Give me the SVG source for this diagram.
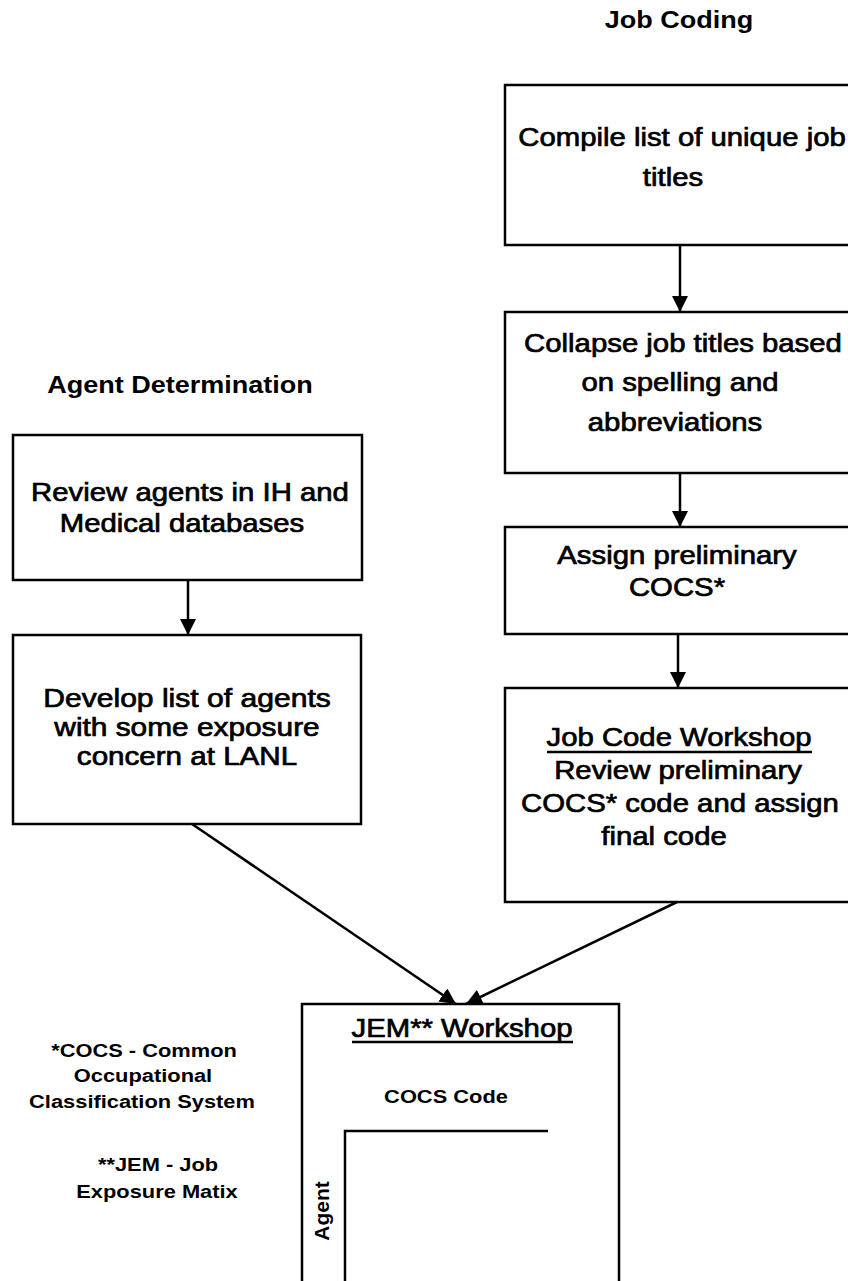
<svg xmlns="http://www.w3.org/2000/svg" width="848" height="1281" viewBox="0 0 848 1281">
<defs>
<style>
.box{fill:#fff;stroke:#000;stroke-width:2.5}
.t{font-family:"Liberation Sans",Arial,sans-serif;font-size:25.5px;fill:#000;stroke:#000;stroke-width:0.7;text-anchor:middle}
.h{font-family:"Liberation Sans",Arial,sans-serif;font-size:23.5px;font-weight:bold;fill:#000;text-anchor:middle}
.s{font-family:"Liberation Sans",Arial,sans-serif;font-size:19px;font-weight:bold;fill:#000;text-anchor:middle}
.c{fill:none;stroke:#000;stroke-width:2.5}
.u{stroke:#000;stroke-width:2.5}
</style>
<marker id="ah" markerUnits="userSpaceOnUse" viewBox="0 0 16 16" refX="16" refY="8" markerWidth="16" markerHeight="16" orient="auto">
<path d="M0,0 L16,8 L0,16 z" fill="#000"/>
</marker>
</defs>
<rect width="848" height="1281" fill="#fff"/>

<g id="title-job-coding">
<text class="h" transform="translate(679,28) scale(1.15,1)">Job Coding</text>
</g>
<g id="title-agent-determination">
<text class="h" transform="translate(180,393) scale(1.15,1)">Agent Determination</text>
</g>

<g id="n-compile">
<rect class="box" x="505" y="85" width="360" height="160"/>
<text class="t" transform="translate(682,146) scale(1.15,1)">Compile list of unique job</text>
<text class="t" transform="translate(673,186) scale(1.15,1)">titles</text>
</g>

<g id="n-collapse">
<rect class="box" x="505" y="312" width="360" height="161"/>
<text class="t" transform="translate(683,352) scale(1.15,1)">Collapse job titles based</text>
<text class="t" transform="translate(680,391) scale(1.15,1)">on spelling and</text>
<text class="t" transform="translate(675,431) scale(1.15,1)">abbreviations</text>
</g>

<g id="n-assign">
<rect class="box" x="505" y="527" width="360" height="107"/>
<text class="t" transform="translate(677,564) scale(1.15,1)">Assign preliminary</text>
<text class="t" transform="translate(677,596) scale(1.15,1)">COCS*</text>
</g>

<g id="n-jobcode">
<rect class="box" x="505" y="688" width="360" height="214"/>
<text class="t" transform="translate(679,746) scale(1.15,1)">Job Code Workshop</text>
<line class="u" x1="547" y1="752" x2="812" y2="752"/>
<text class="t" transform="translate(678,779) scale(1.15,1)">Review preliminary</text>
<text class="t" transform="translate(680,812) scale(1.15,1)">COCS* code and assign</text>
<text class="t" transform="translate(664,845) scale(1.15,1)">final code</text>
</g>

<g id="n-review">
<rect class="box" x="13" y="435" width="349" height="145"/>
<text class="t" transform="translate(190,501) scale(1.15,1)">Review agents in IH and</text>
<text class="t" transform="translate(182,532) scale(1.15,1)">Medical databases</text>
</g>

<g id="n-develop">
<rect class="box" x="13" y="635" width="348" height="189"/>
<text class="t" transform="translate(187,707) scale(1.18,1)">Develop list of agents</text>
<text class="t" transform="translate(187,736) scale(1.17,1)">with some exposure</text>
<text class="t" transform="translate(187,765) scale(1.16,1)">concern at LANL</text>
</g>

<g id="n-jem">
<path class="c" d="M302,1290 V1004 H619 V1290"/>
<text class="t" transform="translate(462,1037) scale(1.15,1)">JEM** Workshop</text>
<line class="u" x1="352" y1="1042" x2="573" y2="1042"/>
<text class="s" transform="translate(446,1103) scale(1.15,1)">COCS Code</text>
<path class="c" d="M548,1131 H345 V1290"/>
<text class="s" style="font-size:21px" transform="translate(329,1211) rotate(-90)">Agent</text>
</g>

<g id="footnotes">
<text class="s" transform="translate(144,1057) scale(1.15,1)">*COCS - Common</text>
<text class="s" transform="translate(143,1082) scale(1.15,1)">Occupational</text>
<text class="s" transform="translate(142,1108) scale(1.15,1)">Classification System</text>
<text class="s" transform="translate(158,1171) scale(1.15,1)">**JEM - Job</text>
<text class="s" transform="translate(157,1198) scale(1.15,1)">Exposure Matix</text>
</g>

<g id="connectors">
<line class="c" x1="680" y1="245" x2="680" y2="312" marker-end="url(#ah)"/>
<line class="c" x1="680" y1="473" x2="680" y2="527" marker-end="url(#ah)"/>
<line class="c" x1="678" y1="634" x2="678" y2="688" marker-end="url(#ah)"/>
<line class="c" x1="188" y1="580" x2="188" y2="635" marker-end="url(#ah)"/>
<line class="c" x1="192" y1="824" x2="456" y2="1004" marker-end="url(#ah)"/>
<line class="c" x1="677" y1="902" x2="466" y2="1004" marker-end="url(#ah)"/>
</g>
</svg>
